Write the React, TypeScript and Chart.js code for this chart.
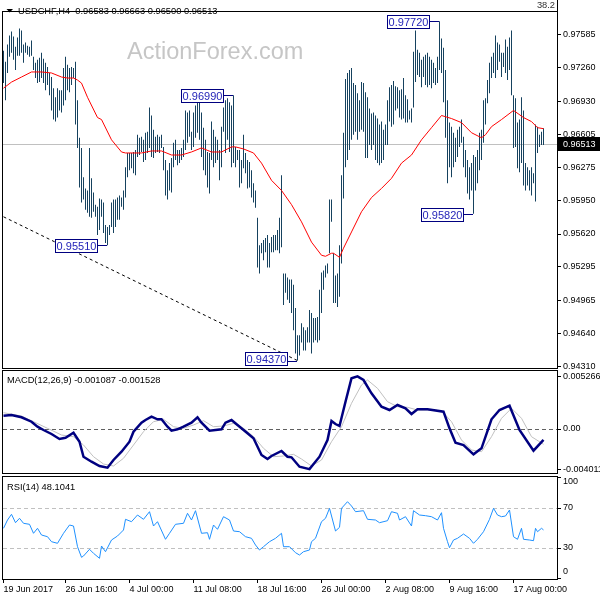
import React, { useEffect, useRef } from 'react';
import { Chart, registerables } from 'chart.js';

Chart.register(...registerables);

const FONT = '"Liberation Sans", Arial, sans-serif';

// ---------------- data ----------------
const symbol = 'USDCHF,H4';
const ohlc = [0.96583, 0.96663, 0.965, 0.96513];
const watermark = 'ActionForex.com';
const cornerText = '38.2';

const highs = [
  0.9743, 0.9732, 0.9749, 0.9758, 0.9762, 0.9757, 0.9747, 0.9756, 0.9765, 0.9763,
  0.9749, 0.9751, 0.9748, 0.9747, 0.9753, 0.9737, 0.9731, 0.9734, 0.9736, 0.9741,
  0.9735, 0.9731, 0.9727, 0.9721, 0.9717, 0.9706, 0.9697, 0.9706, 0.9704, 0.9704,
  0.9726, 0.9737, 0.9729, 0.9726, 0.9727, 0.9726, 0.9732, 0.9694, 0.9657, 0.9647,
  0.9618, 0.9607, 0.9605, 0.9647, 0.9617, 0.9603, 0.9591, 0.9589, 0.9597, 0.9596,
  0.9593, 0.9571, 0.9569, 0.9571, 0.9593, 0.9596, 0.9596, 0.9598, 0.96, 0.9598,
  0.9605, 0.9628, 0.9642, 0.9642, 0.9642, 0.9643, 0.9645, 0.966, 0.9657, 0.9658,
  0.9655, 0.9662, 0.9663, 0.9687, 0.9679, 0.9665, 0.9658, 0.966, 0.9658, 0.966,
  0.9648, 0.9635, 0.9625, 0.9632, 0.9637, 0.9652, 0.9655, 0.9645, 0.9645, 0.9647,
  0.9655, 0.9684, 0.9682, 0.9684, 0.9663, 0.9682, 0.9689, 0.9695, 0.9694, 0.9682,
  0.9667, 0.9655, 0.9643, 0.9642, 0.9673, 0.9665, 0.9658, 0.9655, 0.9645, 0.9668,
  0.9687, 0.9694, 0.9696, 0.9692, 0.9689, 0.9699, 0.9648, 0.9645, 0.9645, 0.9635,
  0.966, 0.9642, 0.9635, 0.9633, 0.9625, 0.9612, 0.9605, 0.9578, 0.9551, 0.9553,
  0.9556, 0.9558, 0.9561, 0.9553, 0.9559, 0.9561, 0.9561, 0.9566, 0.9578, 0.962,
  0.9523, 0.9523, 0.9519, 0.9517, 0.9517, 0.9512, 0.9489, 0.9462, 0.9462, 0.9474,
  0.947, 0.9467, 0.947, 0.9487, 0.9484, 0.9479, 0.9479, 0.948, 0.9507, 0.9524,
  0.9526, 0.9531, 0.9533, 0.9596, 0.9596, 0.9543, 0.9521, 0.9523, 0.9551, 0.962,
  0.9662, 0.9715, 0.9721, 0.9724, 0.9726, 0.9711, 0.9709, 0.9701, 0.9694, 0.9712,
  0.9711, 0.9702, 0.9697, 0.9686, 0.9681, 0.9682, 0.9679, 0.9676, 0.967, 0.9673,
  0.9665, 0.967, 0.9694, 0.9707, 0.9709, 0.9713, 0.9708, 0.9707, 0.9704, 0.9705,
  0.9716, 0.9699, 0.9695, 0.9684, 0.9686, 0.9742, 0.9763, 0.9744, 0.9741, 0.9734,
  0.9737, 0.9739, 0.9741, 0.9737, 0.9734, 0.9731, 0.9726, 0.9737, 0.9772, 0.9755,
  0.9746, 0.9724, 0.9694, 0.9672, 0.9668, 0.9662, 0.9657, 0.9665, 0.9668, 0.9675,
  0.9658, 0.9645, 0.9635, 0.9628, 0.9632, 0.964, 0.9638, 0.9645, 0.9662, 0.9665,
  0.9694, 0.9696, 0.9714, 0.9731, 0.9737, 0.9741, 0.9758, 0.9751, 0.9749, 0.9741,
  0.9741, 0.9754, 0.9747, 0.9756, 0.9763, 0.9699, 0.9696, 0.9672, 0.9675, 0.9697,
  0.9684, 0.9632, 0.9628, 0.9625, 0.9628, 0.9622, 0.967, 0.9668, 0.966, 0.9663, 0.96663,
];

const lows = [
  0.9711, 0.9694, 0.9721, 0.9737, 0.9741, 0.9734, 0.9724, 0.9738, 0.9738, 0.9741,
  0.9731, 0.9741, 0.9739, 0.9737, 0.9738, 0.9724, 0.9716, 0.9711, 0.9712, 0.9716,
  0.9711, 0.9704, 0.9709, 0.9699, 0.9684, 0.9675, 0.9673, 0.9677, 0.9684, 0.9682,
  0.9689, 0.9694, 0.9704, 0.9702, 0.9709, 0.9716, 0.967, 0.9647, 0.9608, 0.9593,
  0.9596, 0.9586, 0.9583, 0.9579, 0.9578, 0.9584, 0.9579, 0.9561, 0.9566, 0.9579,
  0.9563, 0.9553, 0.9551, 0.9561, 0.9569, 0.9563, 0.9569, 0.9576, 0.9576, 0.9589,
  0.9586, 0.9598, 0.9618, 0.9625, 0.9627, 0.9622, 0.962, 0.9638, 0.964, 0.9643,
  0.9633, 0.9635, 0.9642, 0.9647, 0.9638, 0.9637, 0.9642, 0.9643, 0.9642, 0.9647,
  0.9625, 0.96, 0.9596, 0.9605, 0.9603, 0.9628, 0.9635, 0.963, 0.9632, 0.9635,
  0.9638, 0.9645, 0.9652, 0.9658, 0.9645, 0.9648, 0.9657, 0.9662, 0.9655, 0.9638,
  0.9625, 0.962, 0.9608, 0.9602, 0.9635, 0.9628, 0.9632, 0.9635, 0.9615, 0.9628,
  0.9663, 0.9642, 0.9655, 0.9643, 0.9628, 0.9632, 0.9628, 0.9635, 0.9608, 0.9612,
  0.9627, 0.9622, 0.9607, 0.9608, 0.9598, 0.9593, 0.9588, 0.9529, 0.9523, 0.9543,
  0.9536, 0.9544, 0.9529, 0.9529, 0.9544, 0.9544, 0.9546, 0.9546, 0.9543, 0.9549,
  0.9492, 0.9504, 0.9497, 0.9494, 0.9484, 0.9467, 0.9444, 0.9437, 0.9442, 0.9455,
  0.9447, 0.9447, 0.9455, 0.9455, 0.9444, 0.9455, 0.9457, 0.9455, 0.9457, 0.9484,
  0.9507, 0.9519, 0.9523, 0.9543, 0.9574, 0.9494, 0.9494, 0.949, 0.95, 0.9533,
  0.9597, 0.9628, 0.9635, 0.9645, 0.9655, 0.966, 0.9663, 0.9655, 0.9663, 0.9665,
  0.9663, 0.9637, 0.9637, 0.965, 0.9645, 0.965, 0.9635, 0.9632, 0.963, 0.9632,
  0.9635, 0.965, 0.965, 0.9673, 0.9668, 0.967, 0.9684, 0.9686, 0.9677, 0.9675,
  0.9676, 0.9672, 0.9672, 0.9675, 0.9672, 0.9687, 0.9712, 0.9719, 0.9717, 0.9707,
  0.9717, 0.9709, 0.9707, 0.9709, 0.9706, 0.9711, 0.9709, 0.9711, 0.9724, 0.9721,
  0.9692, 0.9657, 0.9612, 0.9628, 0.9618, 0.9628, 0.9633, 0.9638, 0.9648, 0.9652,
  0.9628, 0.9618, 0.9602, 0.9596, 0.9605, 0.9582, 0.9605, 0.9612, 0.9625, 0.9635,
  0.9652, 0.967, 0.9691, 0.9701, 0.9716, 0.9721, 0.9716, 0.9724, 0.9732, 0.9717,
  0.9727, 0.9721, 0.9714, 0.9724, 0.9699, 0.9647, 0.9648, 0.9627, 0.9623, 0.9632,
  0.961, 0.9605, 0.961, 0.9605, 0.96, 0.9612, 0.9594, 0.9642, 0.9648, 0.965, 0.965,
];

// moving average (red)
const maIdx = [0, 4, 9, 14, 19, 24, 29, 32, 35, 37, 39, 42, 47, 49, 54, 59, 61, 69, 74, 79, 84, 89, 94, 99, 104, 109, 114, 116, 120, 125, 129, 134, 139, 144, 149, 154, 159, 161, 164, 165, 168, 170, 174, 179, 184, 189, 194, 199, 204, 209, 214, 219, 224, 229, 234, 239, 241, 244, 249, 255, 260, 264, 267, 270];
const maVal = [0.9706, 0.9712, 0.9717, 0.9722, 0.9722, 0.9721, 0.9717, 0.9716, 0.9716, 0.9714, 0.9711, 0.9697, 0.9677, 0.9675, 0.9655, 0.9643, 0.9642, 0.9642, 0.9644, 0.9644, 0.964, 0.964, 0.9643, 0.9647, 0.9643, 0.9643, 0.9648, 0.9648, 0.9646, 0.9642, 0.9632, 0.9615, 0.9605, 0.9591, 0.9574, 0.9554, 0.9541, 0.954, 0.9543, 0.9543, 0.9539, 0.9548, 0.9564, 0.9584, 0.9598, 0.9607, 0.9617, 0.9632, 0.964, 0.9655, 0.9667, 0.9679, 0.9676, 0.9672, 0.9662, 0.9657, 0.966, 0.9668, 0.9675, 0.9684, 0.9677, 0.9673, 0.9667, 0.9666];

// dashed trend line
const trendIdx = [0, 147];
const trendPrice = [0.9579, 0.9437];

// labelled extremes
const markIdx = [52, 115, 147, 218, 235];
const markPrice = [0.9551, 0.9699, 0.9437, 0.9772, 0.9582];

const priceTicks = [0.97585, 0.9726, 0.9693, 0.96605, 0.96275, 0.9595, 0.9562, 0.95295, 0.94965, 0.9464, 0.9431];

// MACD
const macdIdx = [0, 4, 9, 14, 17, 20, 24, 28, 31, 35, 38, 40, 44, 48, 52, 55, 59, 63, 65, 69, 71, 74, 77, 79, 82, 84, 87, 90, 94, 97, 99, 103, 109, 111, 114, 117, 122, 125, 129, 132, 134, 139, 142, 144, 148, 153, 158, 162, 164, 166, 168, 171, 174, 177, 180, 184, 189, 193, 197, 201, 204, 207, 212, 220, 223, 226, 230, 235, 239, 244, 248, 253, 258, 265, 270];
const macdVal = [0.00133, 0.0014, 0.00117, 0.00073, 0.00023, -0.0001, -0.0005, -0.001, -0.00087, -0.00037, -0.00127, -0.00277, -0.00327, -0.0037, -0.00387, -0.0031, -0.00227, -0.00127, -0.00027, 0.00063, 0.0009, 0.00123, 0.00097, 0.00097, 0.00023, -0.00017, -0.00003, 0.00023, 0.00063, 0.00117, 0.00063, -0.00017, -0.00003, 0.00063, 0.0009, 0.0004, -0.00043, -0.00093, -0.0026, -0.003, -0.0027, -0.0022, -0.00277, -0.00283, -0.00377, -0.004011, -0.00277, -0.0011, 0.0008, 0.0005, 0.0003, 0.00273, 0.00507, 0.005266, 0.0049, 0.00357, 0.00223, 0.0019, 0.0024, 0.00207, 0.0015, 0.00197, 0.00197, 0.00173, 0.00007, -0.00137, -0.0016, -0.00253, -0.00193, 0.00097, 0.0019, 0.00233, -0.0001, -0.00217, -0.001087];
const sigIdx = [0, 9, 15, 22, 29, 35, 40, 45, 50, 55, 60, 65, 70, 75, 80, 85, 90, 95, 100, 105, 110, 115, 120, 125, 130, 135, 140, 145, 149, 154, 159, 164, 169, 174, 179, 182, 187, 192, 197, 202, 207, 212, 219, 224, 229, 234, 239, 244, 249, 254, 259, 264, 270];
const sigVal = [0.00163, 0.0013, 0.00073, 0.00007, -0.0006, -0.00077, -0.0016, -0.00277, -0.0035, -0.0037, -0.00293, -0.0016, -0.00027, 0.00073, 0.00097, 0.00023, 0.00007, 0.0004, 0.00083, 0.00023, 0.0003, 0.00057, 0.00007, -0.00077, -0.00193, -0.00277, -0.0027, -0.00253, -0.003, -0.0037, -0.0031, -0.00127, 0.00023, 0.00257, 0.0044, 0.0049, 0.00407, 0.00273, 0.00223, 0.00217, 0.0019, 0.0019, 0.00183, 0.00073, -0.0011, -0.0021, -0.00227, -0.00077, 0.00107, 0.00207, 0.00107, -0.00077, -0.001528];
const macdTicks = [-0.004011, 0, 0.005266];

// RSI
const rsiIdx = [0, 2, 4, 6, 8, 10, 13, 15, 17, 19, 22, 24, 27, 30, 33, 35, 37, 39, 40, 43, 45, 48, 49, 51, 54, 57, 60, 61, 64, 67, 70, 73, 75, 77, 81, 83, 86, 90, 92, 94, 96, 99, 102, 103, 105, 107, 110, 113, 115, 118, 121, 124, 126, 128, 130, 133, 136, 139, 140, 143, 146, 148, 150, 153, 154, 156, 159, 161, 163, 166, 168, 169, 172, 174, 176, 180, 182, 186, 188, 192, 194, 197, 198, 201, 204, 205, 208, 211, 214, 217, 219, 220, 222, 223, 225, 227, 230, 233, 235, 237, 240, 243, 245, 247, 249, 251, 253, 255, 257, 259, 260, 263, 265, 266, 267, 269, 270];
const rsiVal = [49.7, 58, 63.7, 55.3, 59.7, 54.7, 53.7, 44.7, 49.7, 43, 41.3, 36.3, 34.7, 44.7, 53, 52, 31.3, 20.7, 22, 28.7, 24.7, 19.7, 32, 26.3, 38, 42, 48, 58.7, 56.3, 63, 58.7, 66.3, 52, 56.3, 38.7, 44.7, 53.7, 54.7, 64.7, 58, 67.3, 44.7, 45.3, 38.7, 53, 48.7, 61.3, 58, 47, 46.3, 41.3, 39.7, 33, 28, 31.3, 36.3, 39.7, 44.7, 31.3, 31.3, 25.3, 23, 26.3, 28, 36.3, 39.7, 56.3, 59.7, 69.7, 47, 50.7, 69.7, 76.3, 72, 66.3, 67.3, 58.7, 58, 55.3, 57.3, 66.3, 64.7, 58, 61.3, 52, 67.3, 63, 62.3, 61.3, 58, 65.3, 49.7, 36.3, 30.3, 38, 39.7, 44, 39.7, 34.7, 38.7, 46.3, 58.7, 69.7, 63, 61.3, 62, 68, 41.3, 38.7, 49.7, 38.7, 38, 37.3, 49.7, 46.3, 49.7, 48.1041];
const rsiTicks = [0, 30, 70, 100];
const rsiLevels = [30, 70];

// time axis
const timeTickIdx = [0, 31, 63, 95, 127, 159, 191, 223, 255];
const timeLabels = ['19 Jun 2017', '26 Jun 16:00', '4 Jul 00:00', '11 Jul 08:00', '18 Jul 16:00', '26 Jul 00:00', '2 Aug 08:00', '9 Aug 16:00', '17 Aug 00:00'];

// ---------------- styling ----------------
const X_MIN = -0.25;
const X_MAX = 276.75;
const BAR_COLOR = '#16425F';
const AXIS_W = 43;

function drawFrame(chart: any) {
  const { ctx, chartArea: a } = chart;
  ctx.save();
  ctx.strokeStyle = '#000';
  ctx.lineWidth = 1;
  ctx.setLineDash([]);
  ctx.strokeRect(a.left - 0.5, a.top - 0.5, a.right - a.left + 1, a.bottom - a.top + 1);
  ctx.restore();
}

function yAxis(min: number, max: number, ticks: number[], fmt: (v: number) => string, showLabels = true) {
  return {
    type: 'linear',
    position: 'right',
    min,
    max,
    bounds: 'data',
    afterBuildTicks: (s: any) => {
      s.ticks = ticks.map((v) => ({ value: v }));
    },
    afterFit: (s: any) => {
      s.width = AXIS_W;
      s.paddingTop = 0;
      s.paddingBottom = 0;
      s.paddingLeft = 0;
      s.paddingRight = 0;
    },
    ticks: {
      display: showLabels,
      callback: (v: any) => fmt(Number(v)),
      font: { family: FONT, size: 9 },
      color: '#000',
      padding: 2,
      autoSkip: false,
    },
    grid: { drawOnChartArea: false, drawTicks: true, tickLength: 4, color: '#000' },
    border: { display: false },
  };
}

const hiddenX = { type: 'linear', min: X_MIN, max: X_MAX, display: false, offset: false };

const commonOpts = {
  responsive: false,
  animation: false,
  devicePixelRatio: 1,
  events: [],
  plugins: { legend: { display: false }, tooltip: { enabled: false }, title: { display: false } },
};

function makeMain(canvas: HTMLCanvasElement) {
  const decor = {
    id: 'mainDecor',
    beforeDatasetsDraw(chart: any) {
      const { ctx, chartArea: a, scales } = chart;
      ctx.save();
      ctx.font = `23.5px ${FONT}`;
      ctx.fillStyle = '#C6C6C6';
      ctx.textAlign = 'left';
      ctx.textBaseline = 'alphabetic';
      ctx.fillText(watermark, 127, 58.5);
      const py = Math.round(scales.y.getPixelForValue(ohlc[3])) + 0.5;
      ctx.strokeStyle = '#C0C0C0';
      ctx.lineWidth = 1;
      ctx.beginPath();
      ctx.moveTo(a.left, py);
      ctx.lineTo(a.right, py);
      ctx.stroke();
      ctx.restore();
    },
    afterDatasetsDraw(chart: any) {
      const { ctx, chartArea: a, scales } = chart;
      ctx.save();
      ctx.lineWidth = 1;
      markIdx.forEach((idx, k) => {
        const px = Math.floor(scales.x.getPixelForValue(idx));
        const py = Math.round(scales.y.getPixelForValue(markPrice[k]));
        const w = 42;
        const h = 13;
        const right = px - 10;
        const left = right - w;
        let top = py - 6;
        if (top + h > a.bottom - 3) top = a.bottom - 3 - h;
        ctx.strokeStyle = '#000080';
        ctx.beginPath();
        ctx.moveTo(right, py + 0.5);
        ctx.lineTo(px, py + 0.5);
        ctx.stroke();
        ctx.fillStyle = '#FFFFFF';
        ctx.fillRect(left, top, w, h);
        ctx.strokeRect(left + 0.5, top + 0.5, w, h);
        ctx.fillStyle = '#2424B8';
        ctx.font = `11px ${FONT}`;
        ctx.textAlign = 'center';
        ctx.textBaseline = 'middle';
        ctx.fillText(markPrice[k].toFixed(5), left + w / 2 + 0.5, top + h / 2 + 1);
      });
      ctx.restore();
    },
    afterDraw(chart: any) {
      const { ctx, chartArea: a, scales } = chart;
      drawFrame(chart);
      ctx.save();
      ctx.strokeStyle = '#000';
      ctx.lineWidth = 1;
      ctx.beginPath();
      ctx.moveTo(a.right + 0.5, 0);
      ctx.lineTo(a.right + 0.5, a.top);
      ctx.stroke();
      ctx.fillStyle = '#000';
      ctx.beginPath();
      ctx.moveTo(6.5, 9);
      ctx.lineTo(13, 9);
      ctx.lineTo(9.75, 12.5);
      ctx.closePath();
      ctx.fill();
      ctx.font = `9.3px ${FONT}`;
      ctx.textAlign = 'left';
      ctx.textBaseline = 'middle';
      ctx.fillText(`${symbol}  ${ohlc.map((v) => v.toFixed(5)).join(' ')}`, 18, 11);
      ctx.fillStyle = '#333';
      ctx.textAlign = 'right';
      ctx.fillText(cornerText, a.right - 2, 5);
      const py = Math.round(scales.y.getPixelForValue(ohlc[3]));
      ctx.fillStyle = '#000';
      ctx.fillRect(a.right, py - 7, 600 - a.right, 14);
      ctx.fillStyle = '#FFF';
      ctx.textAlign = 'left';
      ctx.font = `9px ${FONT}`;
      ctx.fillText(ohlc[3].toFixed(5), a.right + 6, py + 0.5);
      ctx.restore();
    },
  };

  return new Chart(canvas, {
    type: 'bar',
    data: {
      datasets: [
        {
          type: 'line',
          data: maIdx.map((x, k) => ({ x, y: maVal[k] })),
          borderColor: '#FF0000',
          borderWidth: 1,
          pointRadius: 0,
          tension: 0,
          order: 1,
        },
        {
          type: 'line',
          data: trendIdx.map((x, k) => ({ x, y: trendPrice[k] })),
          borderColor: '#000',
          borderWidth: 1,
          borderDash: [3, 3],
          pointRadius: 0,
          order: 2,
        },
        {
          type: 'bar',
          data: highs.map((h, i) => ({ x: i, y: [lows[i], h] })),
          backgroundColor: BAR_COLOR,
          barThickness: 1,
          borderWidth: 0,
          inflateAmount: 0,
          order: 3,
        },
      ],
    } as any,
    options: {
      ...commonOpts,
      layout: { padding: { left: 3, top: 12, bottom: 12, right: 0 } },
      scales: {
        x: hiddenX,
        y: yAxis(0.94297, 0.97812, priceTicks, (v) => v.toFixed(5)),
      },
    } as any,
    plugins: [decor],
  });
}

function makeMacd(canvas: HTMLCanvasElement) {
  const decor = {
    id: 'macdDecor',
    beforeDatasetsDraw(chart: any) {
      const { ctx, chartArea: a, scales } = chart;
      const py = Math.round(scales.y.getPixelForValue(0)) + 0.5;
      ctx.save();
      ctx.strokeStyle = '#606060';
      ctx.lineWidth = 1;
      ctx.setLineDash([4, 3]);
      ctx.beginPath();
      ctx.moveTo(a.left, py);
      ctx.lineTo(a.right, py);
      ctx.stroke();
      ctx.restore();
    },
    afterDraw(chart: any) {
      const { ctx } = chart;
      drawFrame(chart);
      ctx.save();
      ctx.fillStyle = '#000';
      ctx.font = `9.3px ${FONT}`;
      ctx.textAlign = 'left';
      ctx.textBaseline = 'middle';
      const m = macdVal[macdVal.length - 1].toFixed(6);
      const s = sigVal[sigVal.length - 1].toFixed(6);
      ctx.fillText(`MACD(12,26,9) ${m} ${s}`, 7, 11);
      ctx.restore();
    },
  };
  return new Chart(canvas, {
    type: 'line',
    data: {
      datasets: [
        {
          data: macdIdx.map((x, k) => ({ x, y: macdVal[k] })),
          borderColor: '#000080',
          borderWidth: 2.5,
          pointRadius: 0,
          tension: 0,
          order: 1,
        },
        {
          data: sigIdx.map((x, k) => ({ x, y: sigVal[k] })),
          borderColor: '#C0C0C0',
          borderWidth: 1,
          pointRadius: 0,
          tension: 0,
          order: 2,
        },
      ],
    } as any,
    options: {
      ...commonOpts,
      layout: { padding: { left: 3, top: 2, bottom: 2, right: 0 } },
      scales: {
        x: hiddenX,
        y: yAxis(-0.0044, 0.0058, macdTicks, (v) => (v === 0 ? '0.00' : v.toFixed(6))),
      },
    } as any,
    plugins: [decor],
  });
}

function makeRsi(canvas: HTMLCanvasElement) {
  const decor = {
    id: 'rsiDecor',
    beforeDatasetsDraw(chart: any) {
      const { ctx, chartArea: a, scales } = chart;
      ctx.save();
      ctx.strokeStyle = '#C0C0C0';
      ctx.lineWidth = 1;
      ctx.setLineDash([4, 3]);
      rsiLevels.forEach((lv) => {
        const py = Math.round(scales.y.getPixelForValue(lv)) + 0.5;
        ctx.beginPath();
        ctx.moveTo(a.left, py);
        ctx.lineTo(a.right, py);
        ctx.stroke();
      });
      ctx.restore();
    },
    afterDraw(chart: any) {
      const { ctx, chartArea: a, scales } = chart;
      drawFrame(chart);
      ctx.save();
      ctx.fillStyle = '#000';
      ctx.font = `9.3px ${FONT}`;
      ctx.textAlign = 'left';
      ctx.textBaseline = 'middle';
      ctx.fillText(`RSI(14) ${rsiVal[rsiVal.length - 1].toFixed(4)}`, 7, 17);
      // axis labels, kept inside the pane like the terminal does
      ctx.font = `9px ${FONT}`;
      rsiTicks.forEach((v) => {
        const p = scales.y.getPixelForValue(v);
        const py = Math.min(Math.max(p, a.top + 5), a.bottom - 7);
        ctx.fillText(String(v), a.right + 6, py);
      });
      ctx.restore();
    },
  };
  return new Chart(canvas, {
    type: 'line',
    data: {
      datasets: [
        {
          data: rsiIdx.map((x, k) => ({ x, y: rsiVal[k] })),
          borderColor: '#1E90FF',
          borderWidth: 1,
          pointRadius: 0,
          tension: 0,
        },
      ],
    } as any,
    options: {
      ...commonOpts,
      layout: { padding: { left: 3, top: 7, bottom: 0, right: 0 } },
      scales: {
        x: {
          type: 'linear',
          min: X_MIN,
          max: X_MAX,
          offset: false,
          bounds: 'data',
          afterBuildTicks: (s: any) => {
            s.ticks = timeTickIdx.map((v) => ({ value: v }));
          },
          afterFit: (s: any) => {
            s.height = 21;
            s.paddingLeft = 0;
            s.paddingRight = 0;
          },
          ticks: {
            callback: (_v: any, i: number) => timeLabels[i],
            align: 'start',
            padding: 1,
            maxRotation: 0,
            minRotation: 0,
            autoSkip: false,
            font: { family: FONT, size: 9 },
            color: '#000',
          },
          grid: { drawOnChartArea: false, drawTicks: true, tickLength: 4, color: '#000' },
          border: { display: false },
        },
        y: yAxis(-1, 101, rsiTicks, (v) => String(v), false),
      },
    } as any,
    plugins: [decor],
  });
}

export default function App() {
  const mainRef = useRef<HTMLCanvasElement>(null);
  const macdRef = useRef<HTMLCanvasElement>(null);
  const rsiRef = useRef<HTMLCanvasElement>(null);

  useEffect(() => {
    const charts = [
      makeMain(mainRef.current as HTMLCanvasElement),
      makeMacd(macdRef.current as HTMLCanvasElement),
      makeRsi(rsiRef.current as HTMLCanvasElement),
    ];
    return () => charts.forEach((c) => c.destroy());
  }, []);

  return (
    <div
      style={{
        position: 'fixed',
        left: 0,
        top: 0,
        width: 600,
        height: 600,
        background: '#FFFFFF',
        overflow: 'hidden',
      }}
    >
      <canvas ref={mainRef} width={600} height={380} style={{ position: 'absolute', left: 0, top: 0 }} />
      <canvas ref={macdRef} width={600} height={106} style={{ position: 'absolute', left: 0, top: 369 }} />
      <canvas ref={rsiRef} width={600} height={130} style={{ position: 'absolute', left: 0, top: 470 }} />
    </div>
  );
}
